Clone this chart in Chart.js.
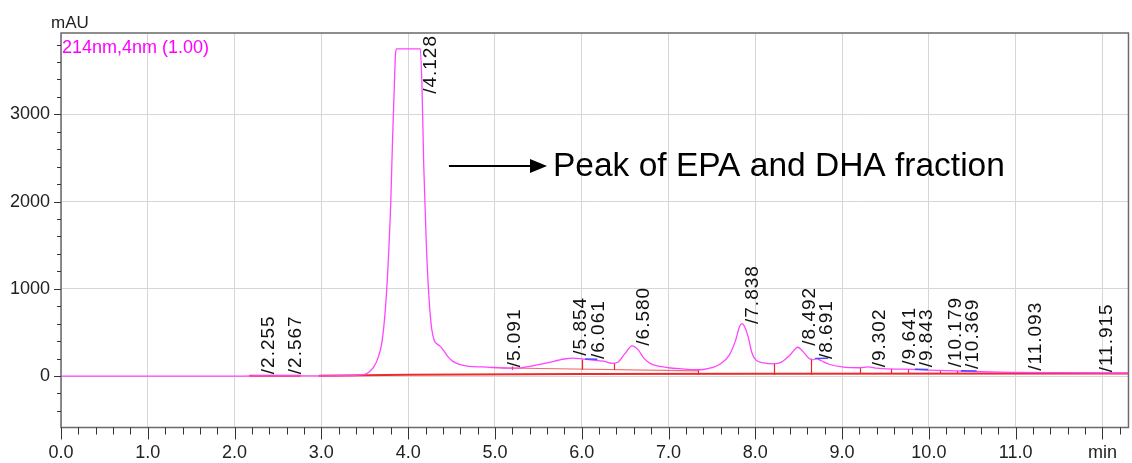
<!DOCTYPE html>
<html>
<head>
<meta charset="utf-8">
<script src="https://cdn.jsdelivr.net/npm/chart.js@4/dist/chart.umd.min.js"></script>
<style>
  html, body { margin: 0; padding: 0; background: #fff; }
  #wrap { width: 1132px; height: 463px; position: relative; }
</style>
</head>
<body>
<div id="wrap"><canvas id="c" width="1132" height="463"></canvas></div>
<script>
// ---- chromatogram trace (min, mAU) ----
const traceTime = [0.0, 1.0, 2.0, 2.2, 2.255, 2.4, 2.567, 2.8, 3.0, 3.2, 3.4, 3.5, 3.55, 3.6, 3.65, 3.7, 3.74, 3.77, 3.80, 3.82, 3.84, 3.855, 3.87,
  4.14, 4.16, 4.18, 4.21, 4.24, 4.27, 4.30, 4.33, 4.37, 4.41, 4.46, 4.52, 4.6, 4.7, 4.85, 5.0, 5.1, 5.25, 5.4, 5.6, 5.8, 5.9, 6.0, 6.1, 6.25, 6.35,
  6.42, 6.5, 6.58, 6.65, 6.72, 6.8, 6.9, 7.0, 7.15, 7.3, 7.4, 7.5, 7.6, 7.7, 7.77, 7.82, 7.845, 7.88, 7.92, 7.96, 8.0, 8.1, 8.22, 8.3, 8.4, 8.49,
  8.55, 8.62, 8.66, 8.7, 8.76, 8.85, 9.0, 9.2, 9.3, 9.4, 9.6, 9.7, 9.85, 10.0, 10.2, 10.4, 10.7, 11.0, 11.5, 12.0, 12.3];
const traceMAU = [0, 0, 0, 2, 4, 2, 4, 2, 2, 3, 8, 20, 45, 100, 200, 400, 800, 1300, 2000, 2700, 3300, 3700, 3750,
  3750, 3300, 2400, 1500, 900, 550, 410, 370, 340, 290, 220, 165, 130, 110, 105, 98, 92, 90, 110, 150, 195, 205, 197, 185, 170, 145,
  160, 260, 345, 300, 200, 140, 110, 95, 82, 72, 75, 95, 140, 240, 400, 570, 600, 560, 440, 270, 190, 150, 140, 160, 240, 330,
  280, 200, 185, 200, 175, 135, 105, 95, 105, 90, 80, 80, 75, 68, 63, 55, 46, 42, 38, 35, 33];

// ---- main integration baseline (red) ----
const baseTime = [2.17, 2.76, null, 2.97, 4.0, 6.0, 8.0, 12.3];
const baseMAU  = [3, 3, null, 3, 15, 22, 25, 30];
// upper integration baseline segment (light red)
const base2Time = [4.95, 7.34];
const base2MAU  = [95, 60];

// ---- peak boundary markers (red verticals): time, top mAU, bottom mAU ----
const markTime   = [5.2, 6.0, 6.37, 7.34, 8.22, 8.64, 9.21, 9.565, 9.76, 10.13, 10.32];
const markTop    = [110, 190, 150, 70, 145, 200, 90, 85, 80, 65, 60];
const markBottom = [70, 70, 68, 15, 12, 12, 23, 23, 23, 23, 25];

// ---- blue baseline segments: [t0, t1], [v0, v1] ----
const blueT0 = [6.04, 8.69, 9.84, 10.37];
const blueT1 = [6.18, 8.84, 9.99, 10.55];
const blueV0 = [195, 200, 78, 60];
const blueV1 = [192, 203, 74, 58];

// ---- peak labels ----
const peakTimes  = [2.255, 2.567, 4.128, 5.091, 5.854, 6.061, 6.580, 7.838, 8.492, 8.691, 9.302, 9.641, 9.843, 10.179, 10.369, 11.093, 11.915];
const peakLabels = ["/2.255", "/2.567", "/4.128", "/5.091", "/5.854", "/6.061", "/6.580", "/7.838", "/8.492", "/8.691", "/9.302", "/9.641", "/9.843", "/10.179", "/10.369", "/11.093", "/11.915"];
const peakLevels = [10, 10, 3750, 88, 221, 183, 336, 585, 336, 183, 88, 107, 88, 88, 69, 49, 31];

// ---- axes ----
const xTickValues = [0, 1, 2, 3, 4, 5, 6, 7, 8, 9, 10, 11, 12];
const xTickLabels = ["0.0", "1.0", "2.0", "3.0", "4.0", "5.0", "6.0", "7.0", "8.0", "9.0", "10.0", "11.0", "min"];
const yTickValues = [0, 1000, 2000, 3000];
const yTickLabels = ["0", "1000", "2000", "3000"];

const FONT = '"Liberation Sans", Arial, Helvetica, sans-serif';

const pts = (xs, ys) => xs.map((x, i) => (x === null ? { x: NaN, y: NaN } : { x: x, y: ys[i] }));

const datasets = [
  { data: pts(baseTime, baseMAU), borderColor: '#ee2a2a', borderWidth: 2, pointRadius: 0, spanGaps: false, order: 3 },
  { data: pts(base2Time, base2MAU), borderColor: 'rgba(240,60,60,0.75)', borderWidth: 1.2, pointRadius: 0, order: 3 },
  { data: pts(traceTime, traceMAU), borderColor: '#ff44ff', borderWidth: 1.3, pointRadius: 0, cubicInterpolationMode: 'monotone', order: 1 }
];
blueT0.forEach((t, i) => {
  datasets.push({ data: [{ x: t, y: blueV0[i] }, { x: blueT1[i], y: blueV1[i] }], borderColor: '#4a4aff', borderWidth: 1.5, pointRadius: 0, order: 0 });
});

const decor = {
  id: 'decor',
  beforeDatasetsDraw(chart) {
    const { ctx, chartArea: a, scales: { x, y } } = chart;
    ctx.save();
    ctx.strokeStyle = '#ee2222';
    ctx.lineWidth = 1.2;
    markTime.forEach((t, i) => {
      const px = Math.round(x.getPixelForValue(t)) + 0.5;
      ctx.beginPath();
      ctx.moveTo(px, y.getPixelForValue(markTop[i]));
      ctx.lineTo(px, y.getPixelForValue(markBottom[i]));
      ctx.stroke();
    });
    ctx.restore();
  },
  afterDraw(chart) {
    const { ctx, chartArea: a, scales: { x, y } } = chart;
    ctx.save();
    // frame
    ctx.strokeStyle = '#6a6a6a';
    ctx.lineWidth = 1.5;
    ctx.strokeRect(a.left, a.top, a.right - a.left, a.bottom - a.top);
    // x ticks (minor every 0.2, major every 1)
    ctx.strokeStyle = '#333';
    ctx.lineWidth = 1;
    for (let i = 0; i <= 61; i++) {
      const v = i * 0.2;
      const px = Math.round(x.getPixelForValue(v)) + 0.5;
      const len = (i % 5 === 0) ? 12 : 7;
      ctx.beginPath();
      ctx.moveTo(px, a.bottom);
      ctx.lineTo(px, a.bottom + len);
      ctx.stroke();
    }
    // y ticks (minor every 200, major every 1000)
    for (let v = -400; v <= 3800; v += 200) {
      const py = Math.round(y.getPixelForValue(v)) + 0.5;
      const len = (v % 1000 === 0) ? 7 : 4;
      ctx.beginPath();
      ctx.moveTo(a.left - len, py);
      ctx.lineTo(a.left, py);
      ctx.stroke();
    }
    // axis title mAU
    ctx.fillStyle = '#222';
    ctx.font = '17px ' + FONT;
    ctx.textAlign = 'left';
    ctx.textBaseline = 'alphabetic';
    ctx.fillText('mAU', 51, 28);
    // channel legend
    ctx.fillStyle = '#ff00ff';
    ctx.font = '18px ' + FONT;
    ctx.fillText('214nm,4nm (1.00)', a.left + 1, a.top + 20);
    // peak labels
    ctx.fillStyle = '#111';
    ctx.font = '19px ' + FONT;
    try { ctx.letterSpacing = '1px'; } catch (e) {}
    peakTimes.forEach((t, i) => {
      const px = x.getPixelForValue(t);
      let py = y.getPixelForValue(peakLevels[i]) - 1;
      const w = ctx.measureText(peakLabels[i]).width;
      if (py - w < a.top + 2) py = a.top + 2 + w;
      ctx.save();
      ctx.translate(px + 17, py);
      ctx.rotate(-Math.PI / 2);
      ctx.fillText(peakLabels[i], 0, 0);
      ctx.restore();
    });
    try { ctx.letterSpacing = '0px'; } catch (e) {}
    // annotation arrow + text
    const ay = y.getPixelForValue(2407);
    const ax0 = x.getPixelForValue(4.47);
    const ax1 = x.getPixelForValue(5.60);
    ctx.strokeStyle = '#000';
    ctx.lineWidth = 2;
    ctx.beginPath();
    ctx.moveTo(ax0, ay);
    ctx.lineTo(ax1 - 12, ay);
    ctx.stroke();
    ctx.fillStyle = '#000';
    ctx.beginPath();
    ctx.moveTo(ax1, ay);
    ctx.lineTo(ax1 - 17, ay - 7);
    ctx.lineTo(ax1 - 17, ay + 7);
    ctx.closePath();
    ctx.fill();
    ctx.font = '33.5px ' + FONT;
    ctx.textBaseline = 'middle';
    ctx.fillText('Peak of EPA and DHA fraction', ax1 + 6, ay + 1);
    ctx.restore();
  }
};

new Chart(document.getElementById('c'), {
  type: 'line',
  data: { datasets },
  plugins: [decor],
  options: {
    responsive: false,
    animation: false,
    events: [],
    layout: { padding: { top: 33, right: 2, left: 0, bottom: 0 } },
    plugins: { legend: { display: false }, tooltip: { enabled: false } },
    elements: { line: { tension: 0 } },
    scales: {
      x: {
        type: 'linear', min: 0, max: 12.3,
        afterBuildTicks: s => { s.ticks = xTickValues.map(v => ({ value: v })); },
        afterFit: s => { s.height = 35.5; },
        ticks: {
          color: '#222', padding: 15, maxRotation: 0, autoSkip: false,
          font: { family: FONT, size: 18 },
          callback: (v) => { const i = xTickValues.indexOf(v); return i >= 0 ? xTickLabels[i] : ''; }
        },
        grid: { color: '#d6d6d6', lineWidth: 1, drawTicks: false },
        border: { display: false }
      },
      y: {
        type: 'linear', min: -590, max: 3932,
        afterBuildTicks: s => { s.ticks = yTickValues.map(v => ({ value: v })); },
        afterFit: s => { s.width = 61; },
        ticks: {
          color: '#222', padding: 11, autoSkip: false,
          font: { family: FONT, size: 18 },
          callback: (v) => { const i = yTickValues.indexOf(v); return i >= 0 ? yTickLabels[i] : ''; }
        },
        grid: { color: '#d6d6d6', lineWidth: 1, drawTicks: false },
        border: { display: false }
      }
    }
  }
});
</script>
</body>
</html>
